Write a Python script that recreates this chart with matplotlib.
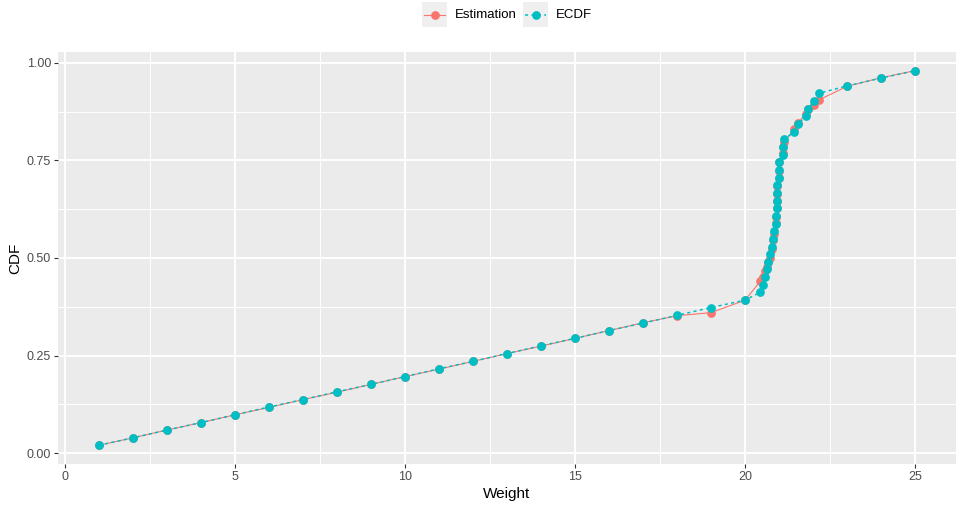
import matplotlib
matplotlib.use("Agg")
import matplotlib.pyplot as plt
import numpy as np
from matplotlib.lines import Line2D
from matplotlib.patches import Rectangle

plt.rcParams['font.family'] = ['Liberation Sans', 'DejaVu Sans']

# weights, sorted
weight = [1, 2, 3, 4, 5, 6, 7, 8, 9, 10, 11, 12, 13, 14, 15, 16, 17, 18, 19, 20,
          20.44, 20.51, 20.59, 20.64, 20.67, 20.72, 20.80, 20.83, 20.84, 20.91,
          20.91, 20.93, 20.93, 20.95, 20.95, 20.99, 21.0, 21.0, 21.1, 21.1,
          21.15, 21.45, 21.54, 21.79, 21.86, 22.03, 22.17, 23, 24, 25]

# empirical CDF values
ecdf = [0.020, 0.039, 0.059, 0.078, 0.098, 0.118, 0.137, 0.157, 0.176, 0.196,
        0.216, 0.235, 0.255, 0.275, 0.294, 0.314, 0.333, 0.353, 0.373, 0.392,
        0.412, 0.431, 0.451, 0.471, 0.490, 0.510, 0.529, 0.549, 0.569, 0.588,
        0.608, 0.627, 0.647, 0.667, 0.686, 0.706, 0.725, 0.745, 0.765, 0.784,
        0.804, 0.824, 0.843, 0.863, 0.882, 0.902, 0.922, 0.941, 0.961, 0.980]

# fitted model CDF
estimation = [0.020, 0.039, 0.059, 0.078, 0.098, 0.117, 0.137, 0.156, 0.176, 0.196,
              0.215, 0.235, 0.255, 0.274, 0.294, 0.314, 0.334, 0.352, 0.360, 0.392,
              0.440, 0.452, 0.466, 0.478, 0.490, 0.500, 0.522, 0.545, 0.562, 0.590,
              0.605, 0.628, 0.645, 0.665, 0.685, 0.705, 0.722, 0.745, 0.770, 0.785,
              0.798, 0.830, 0.845, 0.870, 0.882, 0.893, 0.905, 0.940, 0.962, 0.980]

red = "#F8766D"
cyan = "#00BFC4"
W, H = 958, 509

fig = plt.figure(figsize=(9.58, 5.09), dpi=100)
ax = fig.add_axes([0.0605, 0.0884, 0.9375, 0.8096])
ax.set_facecolor("#EBEBEB")

est_style = dict(color=red, ls="-", lw=0.8, marker="o", ms=6.3, markeredgewidth=0)
ecdf_style = dict(color=cyan, ls=(0, (2, 2.2)), lw=1.1, marker="o", ms=6.3,
                  markeredgewidth=0)

ax.plot(weight, estimation, zorder=3, **est_style)
ax.plot(weight, ecdf, zorder=4, **ecdf_style)

ax.set_xlim(-0.2, 26.2)
ax.set_ylim(-0.028, 1.028)
ax.set_xticks([0, 5, 10, 15, 20, 25])
ax.set_xticks([2.5, 7.5, 12.5, 17.5, 22.5], minor=True)
ax.set_yticks([0, 0.25, 0.5, 0.75, 1.0])
ax.set_yticks([0.125, 0.375, 0.625, 0.875], minor=True)
ax.set_yticklabels(["0.00", "0.25", "0.50", "0.75", "1.00"])
ax.grid(which="major", color="white", lw=1.4)
ax.grid(which="minor", color="white", lw=0.7)
ax.set_axisbelow(True)
for s in ax.spines.values():
    s.set_visible(False)
ax.tick_params(which="major", length=3, width=0.8, color="#333333",
               labelcolor="#4D4D4D", labelsize=9, pad=2)
ax.tick_params(which="minor", length=0)
ax.set_xlabel("Weight", fontsize=11, labelpad=3)
ax.set_ylabel("CDF", fontsize=11, labelpad=3)

# legend at the top: grey key boxes with line + point, label to the right
keys = [(422, "Estimation", est_style), (523, "ECDF", ecdf_style)]
for x0, label, style in keys:
    fig.add_artist(Rectangle((x0 / W, 1 - 27 / H), 25 / W, 25 / H,
                             transform=fig.transFigure, facecolor="#EFEFEF",
                             edgecolor="none"))
    yk = 1 - 15 / H
    fig.add_artist(Line2D([(x0 + 2) / W, (x0 + 12.5) / W, (x0 + 23) / W],
                          [yk, yk, yk], transform=fig.transFigure,
                          markevery=[1], **style))
    fig.text((x0 + 33) / W, yk, label, fontsize=9.5, color="black",
             va="center", ha="left")

plt.savefig("out.png", dpi=100)
